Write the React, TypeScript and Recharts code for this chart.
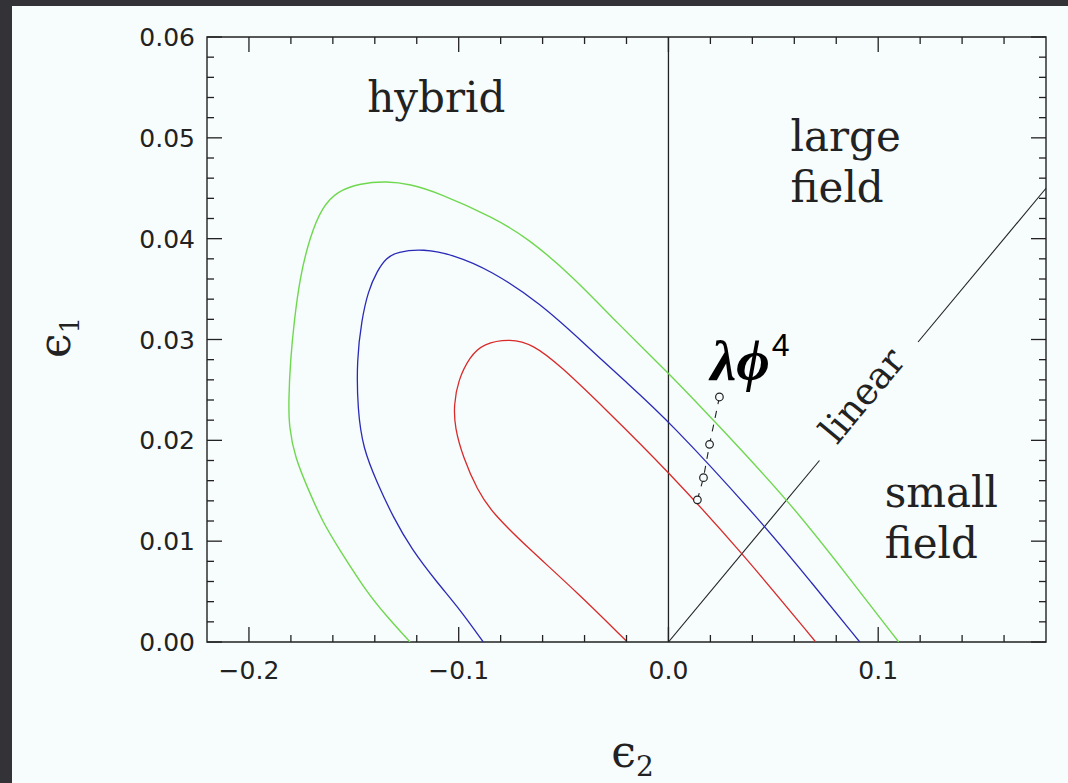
import {
  ComposedChart,
  XAxis,
  YAxis,
  Line,
  ReferenceLine,
  ReferenceArea,
  ReferenceDot,
} from 'recharts';

// contour curves (epsilon2, epsilon1)
const GREEN = [
  { x: -0.1232, y: 0 },
  { x: -0.1341, y: 0.0025 },
  { x: -0.1437, y: 0.0049 },
  { x: -0.1566, y: 0.0091 },
  { x: -0.1647, y: 0.0118 },
  { x: -0.1723, y: 0.0154 },
  { x: -0.178, y: 0.0183 },
  { x: -0.1809, y: 0.0213 },
  { x: -0.1811, y: 0.024 },
  { x: -0.1802, y: 0.028 },
  { x: -0.1785, y: 0.0317 },
  { x: -0.1757, y: 0.0362 },
  { x: -0.1709, y: 0.0402 },
  { x: -0.1652, y: 0.0431 },
  { x: -0.158, y: 0.0447 },
  { x: -0.147, y: 0.0455 },
  { x: -0.1341, y: 0.0457 },
  { x: -0.1232, y: 0.0454 },
  { x: -0.1103, y: 0.0446 },
  { x: -0.0835, y: 0.0421 },
  { x: -0.0673, y: 0.0401 },
  { x: -0.0453, y: 0.0362 },
  { x: -0.0243, y: 0.0316 },
  { x: 0, y: 0.0267 },
  { x: 0.0215, y: 0.022 },
  { x: 0.0582, y: 0.0138 },
  { x: 0.0845, y: 0.0068 },
  { x: 0.1098, y: 0 },
];

const BLUE = [
  { x: -0.0883, y: 0 },
  { x: -0.0993, y: 0.0032 },
  { x: -0.1103, y: 0.0059 },
  { x: -0.1225, y: 0.0092 },
  { x: -0.1313, y: 0.0124 },
  { x: -0.1389, y: 0.0158 },
  { x: -0.1456, y: 0.0192 },
  { x: -0.1482, y: 0.023 },
  { x: -0.1486, y: 0.028 },
  { x: -0.1463, y: 0.0319 },
  { x: -0.1432, y: 0.0348 },
  { x: -0.1389, y: 0.0368 },
  { x: -0.1345, y: 0.0381 },
  { x: -0.1294, y: 0.0387 },
  { x: -0.1169, y: 0.039 },
  { x: -0.1026, y: 0.0384 },
  { x: -0.085, y: 0.0369 },
  { x: -0.0611, y: 0.0336 },
  { x: -0.0406, y: 0.0297 },
  { x: -0.0215, y: 0.026 },
  { x: 0, y: 0.022 },
  { x: 0.0449, y: 0.0118 },
  { x: 0.0678, y: 0.006 },
  { x: 0.0912, y: 0 },
];

const RED = [
  { x: -0.0196, y: 0 },
  { x: -0.0434, y: 0.0049 },
  { x: -0.0673, y: 0.0094 },
  { x: -0.084, y: 0.0128 },
  { x: -0.0912, y: 0.0151 },
  { x: -0.0979, y: 0.0183 },
  { x: -0.1019, y: 0.0213 },
  { x: -0.1023, y: 0.0235 },
  { x: -0.1004, y: 0.0259 },
  { x: -0.0947, y: 0.0283 },
  { x: -0.0883, y: 0.0296 },
  { x: -0.0754, y: 0.0301 },
  { x: -0.0644, y: 0.0295 },
  { x: -0.0516, y: 0.0274 },
  { x: -0.031, y: 0.0233 },
  { x: 0, y: 0.0169 },
  { x: 0.0353, y: 0.0088 },
  { x: 0.0702, y: 0 },
];

// lambda phi^4 predictions
const PHI4 = [
  { x: 0.0138, y: 0.0141 },
  { x: 0.0167, y: 0.0163 },
  { x: 0.0196, y: 0.0196 },
  { x: 0.0243, y: 0.0243 },
];

// "linear" boundary, broken where the label sits
const LINEAR_LOW = [
  { x: 0, y: 0 },
  { x: 0.072, y: 0.018 },
];
const LINEAR_HIGH = [
  { x: 0.119, y: 0.02975 },
  { x: 0.18, y: 0.045 },
];

const X_DOMAIN = [-0.22, 0.18];
const Y_DOMAIN = [0, 0.06];
const X_TICKS = [
  -0.2, -0.18, -0.16, -0.14, -0.12, -0.1, -0.08, -0.06, -0.04, -0.02, 0, 0.02,
  0.04, 0.06, 0.08, 0.1, 0.12, 0.14, 0.16,
];
const Y_TICKS = [
  0, 0.002, 0.004, 0.006, 0.008, 0.01, 0.012, 0.014, 0.016, 0.018, 0.02,
  0.022, 0.024, 0.026, 0.028, 0.03, 0.032, 0.034, 0.036, 0.038, 0.04, 0.042,
  0.044, 0.046, 0.048, 0.05, 0.052, 0.054, 0.056, 0.058, 0.06,
];

const W = 1056;
const H = 777;
const MARGIN = { top: 31, right: 22, bottom: 81, left: 95 };
const Y_AXIS_W = 100;
const X_AXIS_H = 60;
const PLOT_LEFT = MARGIN.left + Y_AXIS_W;
const PLOT_RIGHT = W - MARGIN.right;
const PLOT_TOP = MARGIN.top;
const PLOT_BOTTOM = H - MARGIN.bottom - X_AXIS_H;

const INK = '#222';
const PAPER = '#f7fcfc';
const TICK_FONT = { fontFamily: '"DejaVu Sans", sans-serif', fontSize: 25, fill: INK };
const SERIF = '"DejaVu Serif", serif';

const onStep = (v: number, step: number) =>
  Math.abs(v / step - Math.round(v / step)) < 1e-6;

const fmtX = (v: number) =>
  v < -1e-9 ? '\u2212' + Math.abs(v).toFixed(1) : Math.abs(v).toFixed(1);

const XTick = (props: any) => {
  const { x, payload } = props;
  const major = onStep(payload.value, 0.1);
  const len = major ? 15 : 7;
  return (
    <g>
      <line x1={x} x2={x} y1={PLOT_BOTTOM} y2={PLOT_BOTTOM - len} stroke={INK} strokeWidth={1.3} />
      <line x1={x} x2={x} y1={PLOT_TOP} y2={PLOT_TOP + len} stroke={INK} strokeWidth={1.3} />
      {major && (
        <text x={x} y={PLOT_BOTTOM + 37} textAnchor="middle" {...TICK_FONT}>
          {fmtX(payload.value)}
        </text>
      )}
    </g>
  );
};

const YTick = (props: any) => {
  const { y, payload } = props;
  const major = onStep(payload.value, 0.01);
  const len = major ? 15 : 7;
  return (
    <g>
      <line x1={PLOT_LEFT} x2={PLOT_LEFT + len} y1={y} y2={y} stroke={INK} strokeWidth={1.3} />
      <line x1={PLOT_RIGHT} x2={PLOT_RIGHT - len} y1={y} y2={y} stroke={INK} strokeWidth={1.3} />
      {major && (
        <text x={PLOT_LEFT - 12} y={y + 9} textAnchor="end" {...TICK_FONT}>
          {payload.value.toFixed(2)}
        </text>
      )}
    </g>
  );
};

const XTitle = () => (
  <text x={(PLOT_LEFT + PLOT_RIGHT) / 2 + 6} y={PLOT_BOTTOM + 125} textAnchor="middle"
    fontFamily={SERIF} fontSize={44} fill={INK}>
    {'\u03F5'}
    <tspan fontSize={28} dy={9}>2</tspan>
  </text>
);

const YTitle = () => (
  <g transform={`translate(58, ${(PLOT_TOP + PLOT_BOTTOM) / 2 - 2}) rotate(-90)`}>
    <text x={0} y={0} textAnchor="middle" fontFamily={SERIF} fontSize={44} fill={INK}>
      {'\u03F5'}
      <tspan fontSize={26} dy={9}>1</tspan>
    </text>
  </g>
);

const words = (lines: string[], anchor: 'start' | 'middle', gap = 51) => (p: any) => (
  <text x={p.cx} y={p.cy} textAnchor={anchor} fontFamily={SERIF} fontSize={42} fill={INK}>
    {lines.map((l, i) => (
      <tspan key={l} x={p.cx} dy={i === 0 ? 0 : gap}>
        {l}
      </tspan>
    ))}
  </text>
);

const LinearLabel = (p: any) => (
  <text x={p.cx} y={p.cy} dy={4} textAnchor="middle" fontFamily={SERIF} fontSize={37}
    fill={INK} transform={`rotate(-50.3, ${p.cx}, ${p.cy})`}>
    linear
  </text>
);

const PhiLabel = (p: any) => (
  <text x={p.cx} y={p.cy} fill="#000">
    <tspan fontFamily='"Liberation Serif", serif' fontStyle="italic" fontWeight="bold" fontSize={58}>
      {'\u03BB\u03D5'}
    </tspan>
    <tspan fontFamily='"Liberation Sans", sans-serif' fontSize={32} dx={2} dy={-24}>4</tspan>
  </text>
);

export default function App() {
  return (
    <div style={{ position: 'absolute', left: 0, top: 0, width: 1068, height: 783, background: '#333337' }}>
      <div style={{ position: 'absolute', left: 12, top: 6, width: W, height: H, background: PAPER }}>
        <ComposedChart width={W} height={H} margin={MARGIN}>
          <XAxis
            dataKey="x"
            type="number"
            domain={X_DOMAIN}
            allowDataOverflow
            ticks={X_TICKS}
            interval={0}
            height={X_AXIS_H}
            tickSize={0}
            tickMargin={0}
            tickLine={false}
            axisLine={false}
            tick={<XTick />}
            label={{ content: () => <XTitle /> }}
          />
          <YAxis
            dataKey="y"
            type="number"
            domain={Y_DOMAIN}
            allowDataOverflow
            ticks={Y_TICKS}
            interval={0}
            width={Y_AXIS_W}
            tickSize={0}
            tickMargin={0}
            tickLine={false}
            axisLine={false}
            tick={<YTick />}
            label={{ content: () => <YTitle /> }}
          />
          <ReferenceArea x1={-0.22} x2={0.18} y1={0} y2={0.06} fill="none" stroke={INK} strokeWidth={1.4} />
          <ReferenceLine x={0} stroke={INK} strokeWidth={1.3} />
          <Line data={LINEAR_LOW} dataKey="y" type="linear" stroke={INK} strokeWidth={1.1} dot={false} activeDot={false} isAnimationActive={false} />
          <Line data={LINEAR_HIGH} dataKey="y" type="linear" stroke={INK} strokeWidth={1.1} dot={false} activeDot={false} isAnimationActive={false} />
          <Line data={GREEN} dataKey="y" type="basis" stroke="#6fd84f" strokeWidth={1.4} dot={false} activeDot={false} isAnimationActive={false} />
          <Line data={BLUE} dataKey="y" type="basis" stroke="#2a2ab8" strokeWidth={1.3} dot={false} activeDot={false} isAnimationActive={false} />
          <Line data={RED} dataKey="y" type="basis" stroke="#d92a2a" strokeWidth={1.3} dot={false} activeDot={false} isAnimationActive={false} />
          <Line
            data={PHI4}
            dataKey="y"
            type="linear"
            stroke={INK}
            strokeWidth={1.1}
            strokeDasharray="7 7"
            dot={{ r: 3.8, fill: PAPER, stroke: INK, strokeWidth: 1.2, strokeDasharray: 'none' }}
            activeDot={false}
            isAnimationActive={false}
          />
          <ReferenceDot x={-0.1107} y={0.0526} r={0} shape={words(['hybrid'], 'middle')} />
          <ReferenceDot x={0.0582} y={0.0487} r={0} shape={words(['large', 'field'], 'start')} />
          <ReferenceDot x={0.1031} y={0.0134} r={0} shape={words(['small', 'field'], 'start')} />
          <ReferenceDot x={0.0955} y={0.0239} r={0} shape={LinearLabel} />
          <ReferenceDot x={0.0200} y={0.0260} r={0} shape={PhiLabel} />
        </ComposedChart>
      </div>
    </div>
  );
}
